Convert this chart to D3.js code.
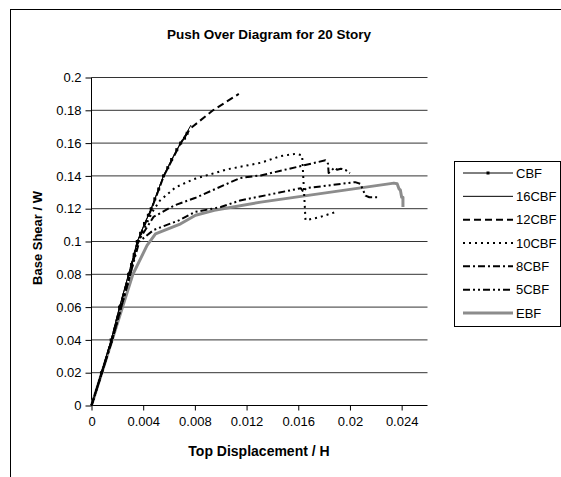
<!DOCTYPE html>
<html>
<head>
<meta charset="utf-8">
<script src="https://cdn.jsdelivr.net/npm/d3@7"></script>
<style>
html,body{margin:0;padding:0;background:#fff;}
svg{display:block;font-family:"Liberation Sans",Arial,sans-serif;}
</style>
</head>
<body>
<svg id="chart" width="561" height="477"></svg>
<script>
// ---- data (x = top displacement / H, y = base shear / W) ----
const seriesNames = ["CBF", "16CBF", "12CBF", "10CBF", "8CBF", "5CBF", "EBF"];

const cbfX = [0, 0.00077, 0.00152, 0.00217, 0.00287, 0.0031, 0.0033, 0.00354, 0.0038, 0.0041, 0.0044, 0.00462, 0.0049, 0.0052, 0.00557, 0.0059, 0.0062, 0.0066, 0.0069, 0.0072, 0.0074];
const cbfY = [0, 0.02, 0.04, 0.06, 0.08, 0.086, 0.092, 0.1, 0.105, 0.111, 0.116, 0.12, 0.126, 0.132, 0.14, 0.145, 0.15, 0.156, 0.16, 0.163, 0.166];

const c16X = [0, 0.00077, 0.00152, 0.00217, 0.00287, 0.00354, 0.00462, 0.00557, 0.0069, 0.0077];
const c16Y = [0, 0.02, 0.04, 0.06, 0.08, 0.1, 0.12, 0.14, 0.16, 0.171];

const c12X = [0, 0.0008, 0.00155, 0.0022, 0.0029, 0.00357, 0.00465, 0.0056, 0.0069, 0.00766, 0.0094, 0.0114];
const c12Y = [0, 0.02, 0.04, 0.06, 0.08, 0.1, 0.12, 0.14, 0.16, 0.169, 0.18, 0.19];

const c10X = [0, 0.0008, 0.0016, 0.0023, 0.003, 0.0036, 0.0047, 0.0053, 0.0065, 0.0079, 0.0105, 0.0131, 0.0146, 0.0158, 0.0163, 0.01656, 0.0176, 0.0189];
const c10Y = [0, 0.02, 0.04, 0.06, 0.08, 0.1, 0.118, 0.125, 0.133, 0.138, 0.144, 0.148, 0.152, 0.1535, 0.1525, 0.113, 0.1147, 0.118];

const c8X = [0, 0.0008, 0.0016, 0.0023, 0.003, 0.0036, 0.0048, 0.0064, 0.008, 0.0115, 0.0131, 0.0181, 0.0183, 0.01835, 0.0188, 0.019, 0.0193, 0.0197, 0.02];
const c8Y = [0, 0.02, 0.04, 0.06, 0.08, 0.1, 0.115, 0.122, 0.1265, 0.1387, 0.1403, 0.1495, 0.1475, 0.1418, 0.145, 0.1438, 0.1444, 0.1434, 0.1417];

const c5X = [0, 0.0008, 0.0016, 0.0023, 0.003, 0.0037, 0.0048, 0.0068, 0.008, 0.01, 0.0115, 0.0162, 0.0164, 0.0166, 0.0204, 0.0208, 0.0212, 0.0215, 0.0221];
const c5Y = [0, 0.02, 0.04, 0.06, 0.08, 0.1, 0.107, 0.113, 0.118, 0.121, 0.125, 0.1325, 0.1302, 0.1325, 0.1362, 0.1352, 0.128, 0.127, 0.127];

const ebfX = [0, 0.0008, 0.0016, 0.0024, 0.0032, 0.0043, 0.00495, 0.0069, 0.00805, 0.0095, 0.0131, 0.0234, 0.02365, 0.0238, 0.0239, 0.0240, 0.0241, 0.0241];
const ebfY = [0, 0.02, 0.04, 0.06, 0.08, 0.0976, 0.1047, 0.1108, 0.116, 0.119, 0.124, 0.1356, 0.1352, 0.132, 0.1314, 0.127, 0.127, 0.121];

const xTicks = [0, 0.004, 0.008, 0.012, 0.016, 0.02, 0.024];
const xTickLabels = ["0", "0.004", "0.008", "0.012", "0.016", "0.02", "0.024"];
const yTicks = [0, 0.02, 0.04, 0.06, 0.08, 0.1, 0.12, 0.14, 0.16, 0.18, 0.2];
const yTickLabels = ["0", "0.02", "0.04", "0.06", "0.08", "0.1", "0.12", "0.14", "0.16", "0.18", "0.2"];

const titleText = "Push Over Diagram for 20 Story";
const xTitle = "Top Displacement / H";
const yTitle = "Base Shear / W";

// ---- styles ----
const styles = {
  "CBF":   {stroke: "#000", width: 1, dash: null, marker: true},
  "16CBF": {stroke: "#000", width: 1, dash: null},
  "12CBF": {stroke: "#000", width: 2, dash: "7,4"},
  "10CBF": {stroke: "#000", width: 2, dash: "2,4"},
  "8CBF":  {stroke: "#000", width: 2, dash: "7,3,2,3"},
  "5CBF":  {stroke: "#000", width: 2, dash: "7,3,2,3,2,3"},
  "EBF":   {stroke: "#8c8c8c", width: 3, dash: null}
};

const seriesData = [
  [cbfX, cbfY], [c16X, c16Y], [c12X, c12Y], [c10X, c10Y], [c8X, c8Y], [c5X, c5Y], [ebfX, ebfY]
].map(([xs, ys], i) => ({name: seriesNames[i], pts: xs.map((x, j) => [x, ys[j]])}));

const svg = d3.select("#chart");

// outer frame
svg.append("rect").attr("x", 10.5).attr("y", 9.5).attr("width", 600).attr("height", 500)
  .attr("fill", "none").attr("stroke", "#000").attr("stroke-width", 1);

const x = d3.scaleLinear().domain([0, 0.026]).range([91.5, 427.5]);
const y = d3.scaleLinear().domain([0, 0.2]).range([405.5, 77.5]);

// grid
svg.append("g").selectAll("line").data(yTicks.filter(d => d > 0)).join("line")
  .attr("x1", x(0)).attr("x2", x(0.026))
  .attr("y1", d => y(d)).attr("y2", d => y(d))
  .attr("stroke", "#333").attr("stroke-width", 1);

// axes
const yAxis = d3.axisLeft(y).tickValues(yTicks).tickFormat((d, i) => yTickLabels[i]).tickSize(6).tickPadding(4);
const gy = svg.append("g").attr("transform", `translate(${x(0)},0)`).call(yAxis);
const xAxis = d3.axisBottom(x).tickValues(xTicks).tickFormat((d, i) => xTickLabels[i]).tickSize(5).tickPadding(6);
const gx = svg.append("g").attr("transform", `translate(0,${y(0)})`).call(xAxis);
[gx, gy].forEach(g => {
  g.select(".domain").attr("stroke", "#000");
  g.selectAll(".tick line").attr("stroke", "#000");
  g.selectAll("text").attr("font-size", 13).attr("fill", "#000")
    .attr("font-family", "Liberation Sans, Arial, sans-serif");
});
gx.select(".domain").attr("d", `M${x(0)},0H${x(0.026)}`);
gy.select(".domain").attr("d", `M0,${y(0)}V${y(0.2)}`);

// lines
const line = d3.line().x(d => x(d[0])).y(d => y(d[1]));
const order = ["EBF", "5CBF", "8CBF", "10CBF", "12CBF", "16CBF", "CBF"];
order.forEach(n => {
  const s = seriesData.find(d => d.name === n);
  const st = styles[n];
  svg.append("path").datum(s.pts).attr("d", line)
    .attr("fill", "none").attr("stroke", st.stroke).attr("stroke-width", st.width)
    .attr("stroke-dasharray", st.dash).attr("stroke-linejoin", "round");
  if (st.marker) {
    svg.append("g").selectAll("rect").data(s.pts.slice(1)).join("rect")
      .attr("x", d => x(d[0]) - 1.5).attr("y", d => y(d[1]) - 1.5)
      .attr("width", 3).attr("height", 3).attr("fill", "#000");
  }
});

// title & axis titles
svg.append("text").attr("x", 269).attr("y", 39).attr("text-anchor", "middle")
  .attr("font-size", 13.5).attr("font-weight", "bold").text(titleText);
svg.append("text").attr("x", 259).attr("y", 456).attr("text-anchor", "middle")
  .attr("font-size", 14).attr("font-weight", "bold").text(xTitle);
svg.append("text").attr("transform", "translate(42,238) rotate(-90)").attr("text-anchor", "middle")
  .attr("font-size", 13).attr("font-weight", "bold").text(yTitle);

// legend
const lg = svg.append("g");
lg.append("rect").attr("x", 454.5).attr("y", 161.5).attr("width", 106).attr("height", 165)
  .attr("fill", "#fff").attr("stroke", "#000");
const ly = d3.scalePoint().domain(seriesNames).range([173, 313]);
seriesNames.forEach(n => {
  const st = styles[n];
  const yy = ly(n);
  lg.append("line").attr("x1", 463).attr("x2", 513).attr("y1", yy).attr("y2", yy)
    .attr("stroke", st.stroke).attr("stroke-width", st.width).attr("stroke-dasharray", st.dash);
  if (st.marker) lg.append("rect").attr("x", 486.5).attr("y", yy - 1.5).attr("width", 3).attr("height", 3).attr("fill", "#000");
  lg.append("text").attr("x", 516).attr("y", yy + 4.5).attr("font-size", 13).text(n);
});
</script>
</body>
</html>
